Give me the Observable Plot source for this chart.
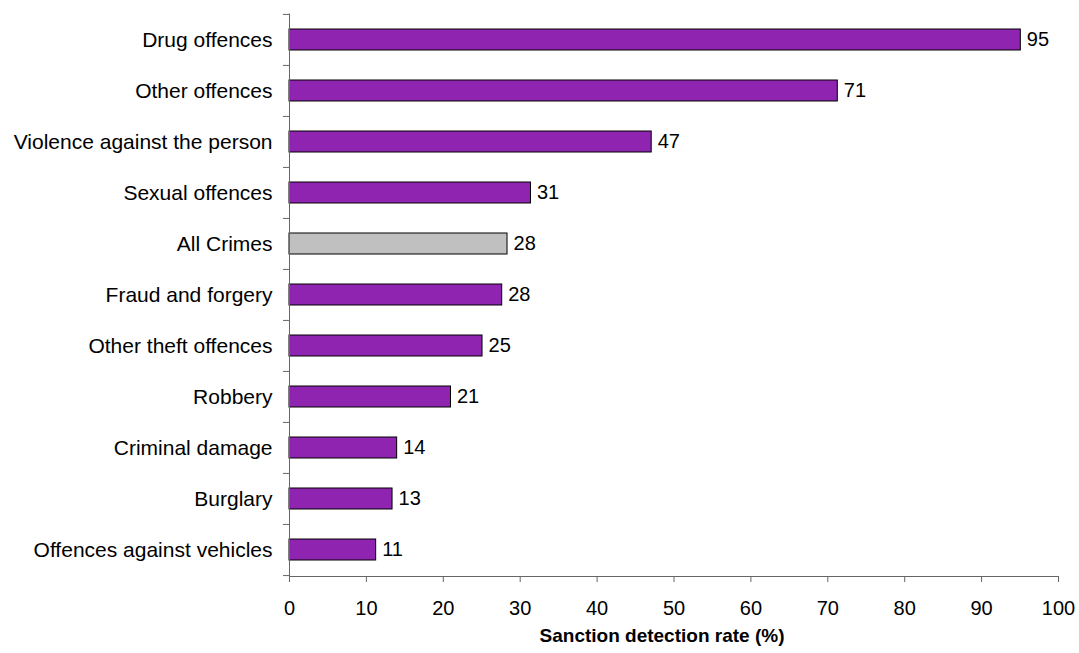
<!DOCTYPE html>
<html>
<head>
<meta charset="utf-8">
<script src="https://cdn.jsdelivr.net/npm/d3@7"></script>
<script src="https://cdn.jsdelivr.net/npm/@observablehq/plot@0.6"></script>
<style>
  html, body { margin: 0; padding: 0; background: #fff; }
  #chart svg { display: block; }
</style>
</head>
<body>
<div id="chart"></div>
<script>
const categories = [
  "Drug offences",
  "Other offences",
  "Violence against the person",
  "Sexual offences",
  "All Crimes",
  "Fraud and forgery",
  "Other theft offences",
  "Robbery",
  "Criminal damage",
  "Burglary",
  "Offences against vehicles"
];
const rates = [95.1, 71.3, 47.1, 31.4, 28.35, 27.66, 25.1, 21.0, 14.0, 13.4, 11.27];
const highlight = ["All Crimes"];
const xTicks = [0, 10, 20, 30, 40, 50, 60, 70, 80, 90, 100];
const xTitle = "Sanction detection rate (%)";

const data = categories.map((c, i) => ({category: c, rate: rates[i]}));

const W = 1079, H = 653;
const mTop = 13.5, mBottom = 77, mLeft = 289, mRight = 21;
const step = (H - mTop - mBottom) / categories.length;
const font = "'Liberation Sans', Arial, Helvetica, sans-serif";

const chart = Plot.plot({
  width: W,
  height: H,
  marginTop: mTop,
  marginBottom: mBottom,
  marginLeft: mLeft,
  marginRight: mRight,
  style: {fontFamily: font, fontSize: "20px", color: "#000", background: "#fff"},
  x: {domain: [0, 100]},
  y: {domain: categories, paddingInner: 0.59, paddingOuter: 0.295},
  marks: [
    Plot.barX(data, {
      x: "rate",
      y: "category",
      fill: d => highlight.includes(d.category) ? "#C0C0C0" : "#8E24B0",
      stroke: "#000",
      strokeWidth: 1
    }),
    Plot.text(data, {
      x: "rate",
      y: "category",
      text: d => String(Math.round(d.rate)),
      textAnchor: "start",
      dx: 6,
      fill: "#000",
      fontSize: 20
    }),
    Plot.frame({anchor: "left", stroke: "#666"}),
    Plot.frame({anchor: "bottom", stroke: "#666"}),
    // y-axis boundary ticks
    Plot.ruleY(categories, {
      y: d => d,
      x1: -6 / 7.69,
      x2: 0,
      dy: -step / 2,
      stroke: "#666",
      clip: false
    }),
    Plot.ruleY(categories.slice(-1), {
      y: d => d,
      x1: -6 / 7.69,
      x2: 0,
      dy: step / 2,
      stroke: "#666",
      clip: false
    }),
    Plot.axisY({tickSize: 0, tickPadding: 17, fontSize: 21, label: null, fill: "#000"}),
    Plot.axisX({ticks: xTicks, tickFormat: d => String(d), tickSize: 6, tickPadding: 18, fontSize: 20, label: null, stroke: "#666", fill: "#000"}),
    Plot.text([xTitle], {
      frameAnchor: "bottom",
      dy: 65,
      dx: -12,
      fontWeight: "bold",
      fontSize: 19,
      fill: "#000"
    })
  ]
});

document.getElementById("chart").appendChild(chart);
</script>
</body>
</html>
